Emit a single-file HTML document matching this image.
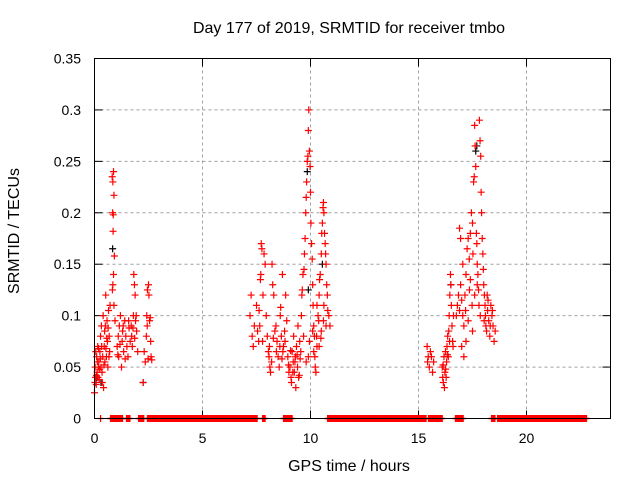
<!DOCTYPE html>
<html><head><meta charset="utf-8"><style>
html,body{margin:0;padding:0;background:#fff;}
svg{display:block;font-family:"Liberation Sans",sans-serif;}
</style></head><body>
<svg id="chart" width="640" height="480" viewBox="0 0 640 480" xmlns="http://www.w3.org/2000/svg">
<text x="349" y="33" font-size="16" text-anchor="middle" fill="#000">Day 177 of 2019, SRMTID for receiver tmbo</text>
<text transform="translate(19,231) rotate(-90)" font-size="16" text-anchor="middle" fill="#000">SRMTID / TECUs</text>
<text x="349" y="471" font-size="16" text-anchor="middle" fill="#000">GPS time / hours</text>
<g id="grid"></g>
<g id="ticks"></g>
<g id="marks"></g>
<rect x="94.5" y="58.5" width="516" height="360" fill="none" stroke="#000" stroke-width="1"/>
</svg>
<script>
const xTicks=[0,5,10,15,20];
const yTicks=[0,0.05,0.1,0.15,0.2,0.25,0.3,0.35];
const yTickLabels=["0","0.05","0.1","0.15","0.2","0.25","0.3","0.35"];
const zeroStarts=[0.28,0.74,1.48,2.04,2.45,7.78,8.75,10.79,15.46,16.71,18.38,18.66];
const zeroEnds=[0.29,1.30,1.67,2.31,7.55,7.92,9.17,15.37,16.11,17.08,18.56,22.78];
const redT=[0.0,0.02,0.05,0.08,0.1,0.12,0.15,0.18,0.2,0.22,0.25,0.28,0.3,0.32,0.35,0.38,0.4,0.42,0.45,0.48,0.5,0.52,0.55,0.58,0.6,0.62,0.65,0.68,0.7,0.72,
0.03,0.06,0.09,0.13,0.16,0.19,0.24,0.27,0.33,0.36,0.44,0.47,0.53,0.57,0.63,0.67,
0.82,0.85,0.88,0.84,0.87,0.9,0.86,0.92,0.88,0.85,0.83,0.9,0.95,
1.05,1.1,1.12,1.15,1.2,1.25,1.28,1.3,1.35,1.4,1.45,1.5,1.55,1.6,1.65,1.7,1.75,1.8,1.82,1.85,1.88,1.9,1.95,2.0,
1.08,1.18,1.33,1.42,1.58,1.72,1.78,1.86,1.93,
2.25,2.3,2.35,2.4,2.42,2.45,2.5,2.55,2.6,2.62,2.65,2.52,2.48,2.58,2.44,
7.2,7.25,7.3,7.35,7.4,7.5,7.55,7.6,7.62,7.68,7.7,7.72,7.75,7.8,7.85,7.9,7.95,8.0,8.05,8.1,8.12,8.15,8.2,8.22,8.25,8.3,8.35,8.4,8.45,8.5,8.55,8.6,8.62,8.65,8.7,8.72,8.75,8.8,8.85,8.9,8.95,9.0,9.05,9.1,9.12,9.15,9.2,9.22,9.25,9.3,9.32,9.35,9.4,9.42,9.45,9.5,9.55,9.58,9.6,9.62,9.65,9.7,9.72,9.75,9.78,9.8,9.82,9.85,9.88,9.9,9.92,9.95,9.98,10.0,10.02,10.05,10.08,10.1,10.12,10.15,10.18,10.2,10.22,10.25,10.3,10.35,10.4,10.42,10.45,10.5,10.52,10.55,10.58,10.6,10.62,10.65,10.68,10.7,10.72,10.75,10.78,10.8,10.85,10.9,10.5,10.6,10.4,10.3,9.9,9.8,9.95,10.1,
7.65,7.78,8.08,8.28,8.42,8.58,8.68,8.82,8.98,9.08,9.18,9.28,9.38,9.48,9.52,9.68,10.15,10.28,10.38,10.48,10.62,10.72,
15.4,15.42,15.45,15.5,15.55,15.6,15.65,15.7,
16.1,16.12,16.15,16.18,16.2,16.22,16.25,16.28,16.3,16.32,16.35,16.38,16.4,16.42,16.45,16.48,16.5,16.52,16.55,16.58,16.6,16.62,
16.75,16.8,16.85,16.9,16.95,17.0,17.05,17.1,17.15,17.2,17.25,17.3,17.35,17.4,17.45,17.5,17.52,17.55,17.58,17.6,17.62,17.65,17.68,17.7,17.72,17.75,17.78,17.8,17.82,17.85,17.88,17.9,17.92,17.95,17.98,18.0,18.02,18.05,18.08,18.1,18.12,18.15,18.18,18.2,18.25,18.3,18.35,18.4,18.45,18.5,18.55,17.1,17.0,17.3,17.5,17.6,17.4,17.2,16.9,16.95,17.05,
16.14,16.26,16.34,16.44,17.18,17.36,17.48,17.72,17.86,18.04,18.22,18.32,18.42];
const redV=[0.025,0.035,0.04,0.033,0.06,0.045,0.07,0.05,0.055,0.038,0.065,0.08,0.05,0.09,0.045,0.06,0.1,0.03,0.07,0.055,0.09,0.12,0.06,0.095,0.075,0.05,0.105,0.08,0.065,0.11,
0.05,0.065,0.042,0.055,0.04,0.068,0.048,0.058,0.07,0.035,0.052,0.085,0.068,0.078,0.088,0.06,
0.235,0.23,0.24,0.2,0.198,0.217,0.182,0.158,0.14,0.13,0.125,0.11,0.095,
0.07,0.08,0.06,0.09,0.1,0.05,0.075,0.085,0.065,0.095,0.08,0.07,0.06,0.088,0.075,0.09,0.07,0.1,0.14,0.13,0.12,0.095,0.085,0.065,
0.062,0.072,0.09,0.058,0.095,0.08,0.088,0.078,0.1,
0.035,0.065,0.055,0.08,0.1,0.125,0.13,0.095,0.075,0.06,0.057,0.12,0.058,0.098,0.09,
0.1,0.12,0.08,0.07,0.09,0.11,0.085,0.075,0.105,0.135,0.14,0.17,0.165,0.12,0.16,0.15,0.1,0.08,0.065,0.07,0.05,0.045,0.055,0.15,0.13,0.12,0.085,0.09,0.075,0.06,0.05,0.1,0.108,0.08,0.14,0.065,0.07,0.085,0.12,0.095,0.06,0.045,0.05,0.04,0.035,0.065,0.055,0.08,0.045,0.06,0.03,0.07,0.05,0.09,0.04,0.075,0.065,0.1,0.12,0.125,0.14,0.145,0.16,0.175,0.2,0.215,0.23,0.25,0.255,0.28,0.3,0.26,0.245,0.22,0.19,0.17,0.155,0.13,0.11,0.09,0.08,0.06,0.05,0.045,0.07,0.1,0.12,0.135,0.14,0.16,0.18,0.19,0.205,0.21,0.2,0.18,0.17,0.16,0.15,0.13,0.12,0.105,0.1,0.09,0.085,0.095,0.07,0.11,0.06,0.055,0.075,0.085,
0.09,0.075,0.06,0.078,0.065,0.07,0.058,0.075,0.052,0.066,0.045,0.055,0.062,0.042,0.058,0.08,0.065,0.08,0.095,0.078,0.11,0.09,
0.07,0.055,0.06,0.05,0.065,0.06,0.045,0.055,
0.05,0.04,0.035,0.06,0.03,0.045,0.065,0.04,0.055,0.07,0.08,0.06,0.085,0.1,0.12,0.14,0.13,0.11,0.09,0.075,0.07,0.1,
0.1,0.11,0.12,0.105,0.13,0.115,0.1,0.09,0.12,0.14,0.165,0.175,0.155,0.135,0.2,0.19,0.16,0.23,0.235,0.285,0.265,0.245,0.18,0.17,0.15,0.14,0.125,0.11,0.29,0.27,0.255,0.22,0.2,0.175,0.16,0.145,0.13,0.12,0.11,0.1,0.09,0.085,0.12,0.105,0.095,0.08,0.11,0.1,0.09,0.075,0.085,0.06,0.07,0.095,0.085,0.12,0.18,0.075,0.185,0.175,0.15,
0.052,0.048,0.062,0.075,0.105,0.125,0.11,0.13,0.1,0.095,0.115,0.09,0.105];
const blackT=[0.3,0.1,0.84,2.25,9.85,9.9,16.5,17.65,17.7,10.55];
const blackV=[0.035,0.04,0.165,0.035,0.24,0.125,0.13,0.26,0.265,0.15];

const NS="http://www.w3.org/2000/svg";
const X0=94.5,PXH=21.6,Y0=418.5,PXV=1028.6;
function xs(t){return X0+t*PXH;}
function ys(v){return Y0-v*PXV;}
const grid=document.getElementById('grid'),ticks=document.getElementById('ticks'),marks=document.getElementById('marks');
function mk(tag,attrs,parent){const e=document.createElementNS(NS,tag);for(const k in attrs)e.setAttribute(k,attrs[k]);parent.appendChild(e);return e;}
xTicks.forEach((t,i)=>{
  const x=xs(t);
  if(t>0){const g=mk('line',{x1:x,y1:58.5,x2:x,y2:418.5,stroke:'#a0a0a0','stroke-dasharray':'3,3'},grid);
  
  }
  const a=mk('line',{x1:x,y1:418.5,x2:x,y2:410.5,stroke:'#000'},ticks);
  
  
  const b=mk('line',{x1:x,y1:58.5,x2:x,y2:66.5,stroke:'#000'},ticks);
  
  
  const l=mk('text',{x:x,y:443,'font-size':14,'text-anchor':'middle',fill:'#000'},ticks);
  l.textContent=String(t);
  
  
});
yTicks.forEach((v,i)=>{
  const y=ys(v);
  if(v>0&&v<0.35){const g=mk('line',{x1:94.5,y1:y,x2:610.5,y2:y,stroke:'#a0a0a0','stroke-dasharray':'3,3'},grid);
  
  }
  const a=mk('line',{x1:94.5,y1:y,x2:102.5,y2:y,stroke:'#000'},ticks);
  
  
  const b=mk('line',{x1:610.5,y1:y,x2:602.5,y2:y,stroke:'#000'},ticks);
  
  
  const l=mk('text',{x:81,y:y+5,'font-size':14,'text-anchor':'end',fill:'#000'},ticks);
  l.textContent=yTickLabels[i];
  
  
});
function cross(t,v,color,name){
  const x=xs(t),y=ys(v);
  const p=mk('path',{d:`M${x-3.5},${y}H${x+3.5}M${x},${y-3.5}V${y+3.5}`,stroke:color,'stroke-width':1.2,fill:'none'},marks);
  
  
}
blackT.forEach((t,i)=>cross(t,blackV[i],'#000','black-point'));
zeroStarts.forEach((s,i)=>{
  const e=zeroEnds[i];
  for(let t=s;t<=e+1e-9;t+=0.04){cross(t,0,'#ff0000','zero-point');}
});
redT.forEach((t,i)=>cross(t,redV[i],'#ff0000','red-point'));
</script>
</body></html>
